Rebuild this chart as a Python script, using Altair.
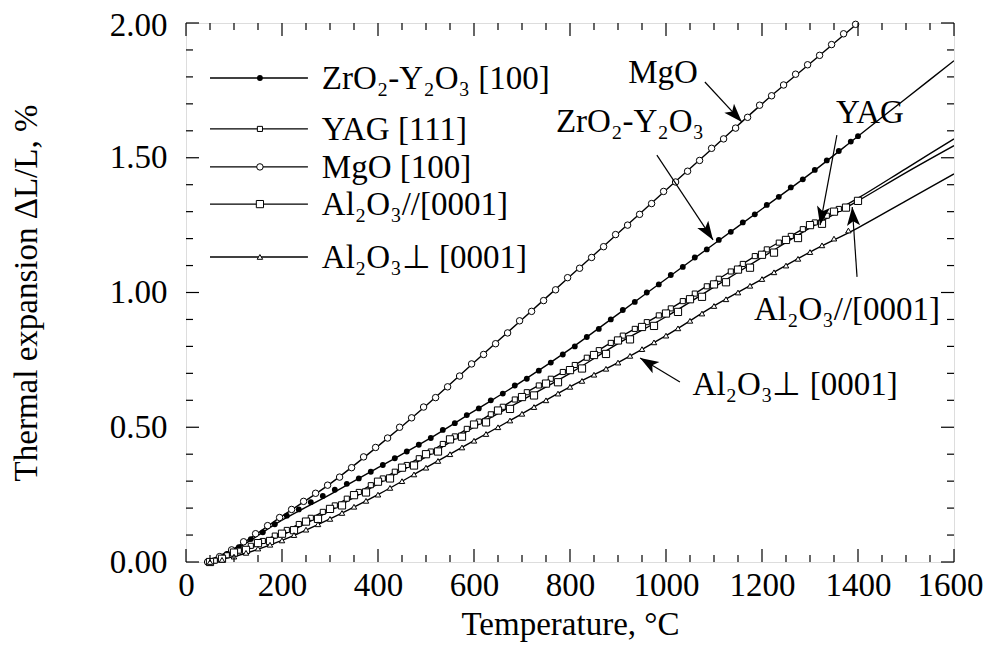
import math
import pandas as pd
import altair as alt

FONT = "Liberation Serif"
FS = 33

# ---------------- data ----------------
# smooth fitted curves
fit_T = [40, 100, 200, 300, 400, 500, 600, 700, 800, 900, 1000, 1100, 1200, 1300, 1400, 1500, 1600]
mgo_fit = [0, 0.05, 0.17, 0.29, 0.43, 0.58, 0.74, 0.90, 1.06, 1.22, 1.38, 1.54, 1.70, 1.85, 2.00]
zro_fit = [0, 0.045, 0.155, 0.25, 0.35, 0.45, 0.56, 0.67, 0.79, 0.92, 1.05, 1.18, 1.31, 1.44, 1.58, 1.72, 1.86]
yag_fit = [0, 0.035, 0.11, 0.20, 0.30, 0.40, 0.51, 0.62, 0.72, 0.83, 0.93, 1.04, 1.15, 1.25, 1.35, 1.46, 1.57]
alp_fit = [0, 0.03, 0.10, 0.19, 0.29, 0.39, 0.50, 0.60, 0.70, 0.81, 0.91, 1.02, 1.13, 1.24, 1.34, 1.445, 1.545]
alx_fit = [0, 0.02, 0.08, 0.16, 0.25, 0.35, 0.45, 0.55, 0.65, 0.74, 0.84, 0.95, 1.05, 1.15, 1.24, 1.34, 1.44]

# measured points
mgo_T = [45, 70, 95, 120, 145, 170, 195, 220, 245, 270, 295, 320, 345, 370, 395, 420, 445, 470, 495,
         520, 545, 570, 595, 620, 645, 670, 695, 720, 745, 770, 795, 820, 845, 870, 895, 920, 945, 970,
         995, 1020, 1045, 1070, 1095, 1120, 1145, 1170, 1195, 1220, 1245, 1270, 1295, 1320, 1345, 1370, 1395]
mgo_v = [0.00, 0.02, 0.045, 0.075, 0.105, 0.135, 0.165, 0.195, 0.225, 0.255, 0.285, 0.315, 0.35, 0.39,
         0.425, 0.46, 0.50, 0.535, 0.575, 0.61, 0.65, 0.69, 0.735, 0.77, 0.81, 0.85, 0.895, 0.93, 0.97,
         1.01, 1.055, 1.09, 1.13, 1.17, 1.215, 1.25, 1.29, 1.33, 1.375, 1.41, 1.45, 1.49, 1.535, 1.57,
         1.61, 1.65, 1.695, 1.73, 1.77, 1.81, 1.845, 1.88, 1.92, 1.96, 1.995]

zro_T = [60, 85, 110, 135, 160, 185, 210, 235, 260, 285, 310, 335, 360, 385, 410, 435, 460, 485, 510,
         535, 560, 585, 610, 635, 660, 685, 710, 735, 760, 785, 810, 835, 860, 885, 910, 935, 960, 985,
         1010, 1035, 1060, 1085, 1110, 1135, 1160, 1185, 1210, 1235, 1260, 1285, 1310, 1335, 1360, 1385, 1400]
zro_v = [0.005, 0.03, 0.055, 0.085, 0.11, 0.14, 0.172, 0.195, 0.222, 0.245, 0.268, 0.29, 0.31, 0.335,
         0.36, 0.385, 0.41, 0.435, 0.46, 0.49, 0.515, 0.545, 0.57, 0.60, 0.625, 0.655, 0.68, 0.71, 0.74,
         0.77, 0.80, 0.835, 0.865, 0.90, 0.935, 0.965, 1.00, 1.03, 1.065, 1.095, 1.13, 1.16, 1.195, 1.225,
         1.26, 1.29, 1.325, 1.355, 1.39, 1.42, 1.455, 1.49, 1.525, 1.56, 1.58]

yag_T = [60, 85, 110, 135, 160, 185, 210, 235, 260, 285, 310, 335, 360, 385, 410, 435, 460, 485, 510,
         535, 560, 585, 610, 635, 660, 685, 710, 735, 760, 785, 810, 835, 860, 885, 910, 935, 960, 985,
         1010, 1035, 1060, 1085, 1110, 1135, 1160, 1185, 1210, 1235, 1260, 1285, 1310, 1335, 1360]
yag_v = [0.005, 0.025, 0.042, 0.06, 0.078, 0.098, 0.119, 0.141, 0.164, 0.186, 0.21, 0.235, 0.26, 0.285,
         0.31, 0.335, 0.36, 0.385, 0.41, 0.438, 0.466, 0.494, 0.521, 0.548, 0.576, 0.603, 0.63, 0.655,
         0.68, 0.705, 0.731, 0.758, 0.786, 0.813, 0.84, 0.865, 0.89, 0.915, 0.941, 0.968, 0.996, 1.023,
         1.051, 1.078, 1.106, 1.135, 1.16, 1.185, 1.21, 1.235, 1.26, 1.285, 1.31]

alp_T = [50, 75, 100, 125, 150, 175, 200, 225, 250, 275, 300, 325, 350, 375, 400, 425, 450, 475, 500,
         525, 550, 575, 600, 625, 650, 675, 700, 725, 750, 775, 800, 825, 850, 875, 900, 925, 950, 975,
         1000, 1025, 1050, 1075, 1100, 1125, 1150, 1175, 1200, 1225, 1250, 1275, 1300, 1325, 1350, 1375, 1400]
alp_v = [0.00, 0.012, 0.035, 0.045, 0.07, 0.078, 0.105, 0.118, 0.15, 0.16, 0.197, 0.21, 0.248, 0.258,
         0.298, 0.31, 0.35, 0.358, 0.40, 0.41, 0.455, 0.465, 0.51, 0.518, 0.562, 0.568, 0.612, 0.618,
         0.662, 0.667, 0.712, 0.718, 0.768, 0.772, 0.822, 0.826, 0.872, 0.876, 0.922, 0.928, 0.975,
         0.984, 1.03, 1.038, 1.085, 1.092, 1.14, 1.148, 1.195, 1.202, 1.25, 1.255, 1.30, 1.315, 1.34]

alx_T = [50, 75, 100, 125, 150, 175, 200, 225, 250, 275, 300, 325, 350, 375, 400, 425, 450, 475, 500,
         525, 550, 575, 600, 625, 650, 675, 700, 725, 750, 775, 800, 825, 850, 875, 900, 925, 950, 975,
         1000, 1025, 1050, 1075, 1100, 1125, 1150, 1175, 1200, 1225, 1250, 1275, 1300, 1325, 1350, 1380]
alx_v = [0.00, 0.008, 0.02, 0.034, 0.05, 0.064, 0.08, 0.10, 0.12, 0.14, 0.16, 0.182, 0.205, 0.227,
         0.25, 0.275, 0.30, 0.325, 0.35, 0.375, 0.40, 0.425, 0.45, 0.475, 0.50, 0.525, 0.55, 0.575,
         0.60, 0.625, 0.65, 0.672, 0.695, 0.717, 0.74, 0.765, 0.79, 0.815, 0.84, 0.867, 0.895, 0.922,
         0.95, 0.975, 1.00, 1.025, 1.05, 1.075, 1.10, 1.125, 1.15, 1.175, 1.20, 1.23]

# legend
legend_labels = ["ZrO\u2082-Y\u2082O\u2083 [100]", "YAG [111]", "MgO [100]",
                 "Al\u2082O\u2083//[0001]", "Al\u2082O\u2083\u22a5 [0001]"]
legend_v = [1.796, 1.607, 1.466, 1.328, 1.132]
legend_T = [50, 154, 254, 283]  # line start, marker, line end, text

# annotations: label, text T, text v, arrow start (T, v), arrow end (T, v)
ann_labels = ["MgO", "ZrO\u2082-Y\u2082O\u2083", "YAG", "Al\u2082O\u2083//[0001]", "Al\u2082O\u2083\u22a5 [0001]"]
ann_T = [994, 925, 1425, 1377, 1269]
ann_v = [1.777, 1.596, 1.629, 0.898, 0.62]
arr_T1 = [1081, 981, 1356, 1398, 1029]
arr_v1 = [1.781, 1.510, 1.584, 1.058, 0.668]
arr_T2 = [1158, 1098, 1321, 1388, 946]
arr_v2 = [1.633, 1.195, 1.250, 1.317, 0.757]

x_major = [0, 200, 400, 600, 800, 1000, 1200, 1400, 1600]
x_minor = [t for t in range(50, 1600, 50) if t % 200 != 0]
y_major = [0.0, 0.5, 1.0, 1.5, 2.0]
y_minor = [round(0.1 * i, 1) for i in range(1, 20) if i % 5 != 0]

# ---------------- chart ----------------
W, H = 768, 539
XMAX, YMAX = 1600, 2.0

xscale = alt.Scale(domain=[0, XMAX], nice=False, zero=False)
yscale = alt.Scale(domain=[0, YMAX], nice=False, zero=False)
xaxis = alt.Axis(values=x_major, format="d", ticks=False, domain=False, grid=False, labelFont=FONT,
                 labelFontSize=FS, labelPadding=7, labelColor="black", title="Temperature, °C",
                 titleFont=FONT, titleFontSize=FS, titleFontWeight="normal", titleColor="black",
                 titlePadding=6, labelFlush=False,
                 labelOffset={"condition": {"test": "datum.value == 1600", "value": -4}, "value": 0})
yaxis = alt.Axis(values=y_major, format=".2f", ticks=False, domain=False, grid=False, labelFont=FONT,
                 labelFontSize=FS, labelPadding=19, labelColor="black", labelFlush=False,
                 labelOffset={"condition": {"test": "datum.value == 2", "value": 2}, "value": 0},
                 title="Thermal expansion \u0394L/L, %", titleFont=FONT, titleFontSize=FS,
                 titleFontWeight="normal", titleColor="black", titlePadding=66)

X = lambda f="T": alt.X(f + ":Q", scale=xscale, axis=xaxis)
Y = lambda f="v": alt.Y(f + ":Q", scale=yscale, axis=yaxis)

layers = []

# fitted lines
for vals in [mgo_fit, zro_fit, yag_fit, alp_fit, alx_fit]:
    df = pd.DataFrame({"T": fit_T[:len(vals)], "v": vals})
    layers.append(alt.Chart(df).mark_line(color="black", strokeWidth=1.4, interpolate="monotone",
                                          clip=True).encode(x=X(), y=Y()))

series = [
    (mgo_T, mgo_v, dict(shape="circle", size=42, filled=False, strokeWidth=1.0)),
    (zro_T, zro_v, dict(shape="circle", size=34, filled=True, strokeWidth=0.5)),
    (yag_T, yag_v, dict(shape="square", size=26, filled=False, strokeWidth=1.0)),
    (alp_T, alp_v, dict(shape="square", size=52, filled=False, strokeWidth=1.0)),
    (alx_T, alx_v, dict(shape="triangle-up", size=30, filled=False, strokeWidth=1.0)),
]
legend_order = [1, 2, 0, 3, 4]  # legend row -> series index

for Ts, vs, st in series:
    df = pd.DataFrame({"T": Ts, "v": vs})
    layers.append(alt.Chart(df).mark_point(color="black", fill="black" if st["filled"] else "white",
                                           opacity=1, shape=st["shape"], size=st["size"],
                                           strokeWidth=st["strokeWidth"], filled=st["filled"])
                  .encode(x=X(), y=Y()))

# legend
leg_df = pd.DataFrame({"label": legend_labels, "v": legend_v,
                       "T1": [legend_T[0]] * 5, "T2": [legend_T[2]] * 5,
                       "Tm": [legend_T[1]] * 5, "Tt": [legend_T[3]] * 5})
layers.append(alt.Chart(leg_df).mark_rule(color="black", strokeWidth=1.4)
              .encode(x=X("T1"), x2="T2:Q", y=Y()))
for row, si in enumerate(legend_order):
    st = series[si][2]
    d = leg_df.iloc[[row]]
    layers.append(alt.Chart(d).mark_point(color="black", fill="black" if st["filled"] else "white",
                                          opacity=1, shape=st["shape"], size=st["size"],
                                          strokeWidth=st["strokeWidth"], filled=st["filled"])
                  .encode(x=X("Tm"), y=Y()))
layers.append(alt.Chart(leg_df).mark_text(font=FONT, fontSize=FS, align="left", baseline="alphabetic",
                                          dy=11, color="black")
              .encode(x=X("Tt"), y=Y(), text="label:N"))

# annotations
sx, sy = W / XMAX, H / YMAX
angles = [math.degrees(math.atan2((t2 - t1) * sx, (v2 - v1) * sy)) % 360
          for t1, v1, t2, v2 in zip(arr_T1, arr_v1, arr_T2, arr_v2)]
ann_df = pd.DataFrame({"label": ann_labels, "T": ann_T, "v": ann_v,
                       "T1": arr_T1, "v1": arr_v1, "T2": arr_T2, "v2": arr_v2, "ang": angles})
layers.append(alt.Chart(ann_df).mark_text(font=FONT, fontSize=FS, align="center",
                                          baseline="alphabetic", color="black")
              .encode(x=X(), y=Y(), text="label:N"))
layers.append(alt.Chart(ann_df).mark_rule(color="black", strokeWidth=1.2)
              .encode(x=X("T1"), y=Y("v1"), x2="T2:Q", y2="v2:Q"))
arrow_path = "M0,0 L0.6,1.7 L0,1.3 L-0.6,1.7 Z"
layers.append(alt.Chart(ann_df).mark_point(shape=arrow_path, size=480, filled=True, color="black",
                                           opacity=1, strokeWidth=0.5)
              .encode(x=X("T2"), y=Y("v2"), angle=alt.Angle("ang:Q", scale=None)))

# inward ticks on all four sides
def xticks(vals, length):
    df = pd.DataFrame({"T": vals})
    bot = alt.Chart(df).mark_rule(color="black", strokeWidth=1.2).encode(
        x=X(), y=alt.value(H), y2=alt.value(H - length))
    top = alt.Chart(df).mark_rule(color="black", strokeWidth=1.2).encode(
        x=X(), y=alt.value(0), y2=alt.value(length))
    return [bot, top]

def yticks(vals, length):
    df = pd.DataFrame({"v": vals})
    left = alt.Chart(df).mark_rule(color="black", strokeWidth=1.2).encode(
        y=Y(), x=alt.value(0), x2=alt.value(length))
    right = alt.Chart(df).mark_rule(color="black", strokeWidth=1.2).encode(
        y=Y(), x=alt.value(W), x2=alt.value(W - length))
    return [left, right]

layers += xticks(x_major, 13) + xticks(x_minor, 7) + yticks(y_major, 13) + yticks(y_minor, 7)

chart = alt.layer(*layers).properties(
    width=W, height=H,
    autosize=alt.AutoSizeParams(type="none"),
    padding={"left": 178, "top": 15, "right": 30, "bottom": 82},
).configure_view(stroke="black", strokeWidth=1.5).configure(background="white")

chart.save("out.html", embed_options={"renderer": "svg", "actions": False})
